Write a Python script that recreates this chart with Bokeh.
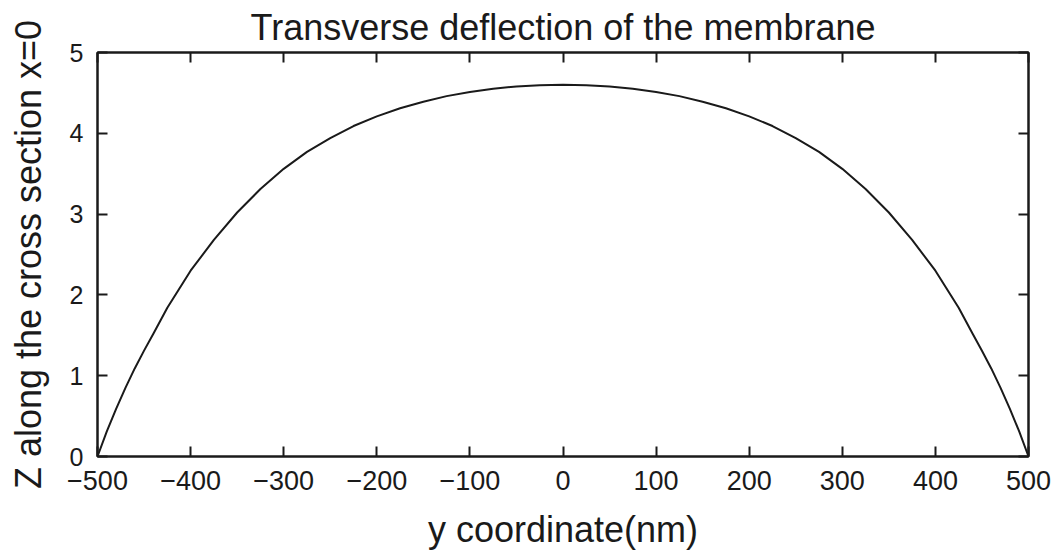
from bokeh.plotting import figure
from bokeh.models import LinearAxis, FixedTicker, Range1d
from bokeh.embed import file_html
from bokeh.resources import INLINE

# ---- data ----
y_coord = [-500, -490, -480, -470, -460, -450, -440, -425, -400, -375, -350,
           -325, -300, -275, -250, -225, -200, -175, -150, -125, -100,
           -75, -50, -25, 0, 25, 50, 75, 100, 125, 150,
           175, 200, 225, 250, 275, 300, 325, 350, 375, 400,
           425, 440, 450, 460, 470, 480, 490, 500]
deflection = [0.00, 0.31, 0.59, 0.85, 1.09, 1.31, 1.52, 1.84, 2.30, 2.68, 3.02,
              3.31, 3.56, 3.77, 3.94, 4.09, 4.21, 4.31, 4.39, 4.46, 4.51,
              4.55, 4.58, 4.595, 4.60, 4.595, 4.58, 4.55, 4.51, 4.46, 4.39,
              4.31, 4.21, 4.09, 3.94, 3.77, 3.56, 3.31, 3.02, 2.68, 2.30,
              1.84, 1.52, 1.31, 1.09, 0.85, 0.59, 0.31, 0.00]

x_ticks = [-500, -400, -300, -200, -100, 0, 100, 200, 300, 400, 500]
x_tick_labels = ["\u2212500", "\u2212400", "\u2212300", "\u2212200", "\u2212100",
                 "0", "100", "200", "300", "400", "500"]
z_ticks = [0, 1, 2, 3, 4, 5]
z_tick_labels = ["0", "1", "2", "3", "4", "5"]

title_text = "Transverse deflection of the membrane"
x_label = "y coordinate(nm)"
y_label = "Z along the cross section x=0"

FONT = "Liberation Sans"
INK = "#1a1a1a"

p = figure(width=1060, height=556,
           x_range=Range1d(-500, 500), y_range=Range1d(0, 5),
           output_backend="svg", toolbar_location=None,
           min_border_left=97, min_border_right=32,
           min_border_top=52, min_border_bottom=100,
           title=title_text)

p.title.text_font = FONT
p.title.text_font_size = "36px"
p.title.text_font_style = "normal"
p.title.text_color = INK
p.title.align = "center"
p.title.standoff = 9

p.xgrid.visible = False
p.ygrid.visible = False
p.outline_line_color = INK
p.outline_line_width = 2
p.background_fill_color = "white"
p.border_fill_color = "white"

p.line(y_coord, deflection, line_color=INK, line_width=2, line_join="round")

bottom_ax = p.below[0]
left_ax = p.left[0]
right_ax = LinearAxis()
top_ax = LinearAxis()
p.add_layout(right_ax, "right")
p.add_layout(top_ax, "above")

for ax in (bottom_ax, top_ax):
    ax.ticker = FixedTicker(ticks=x_ticks)
    ax.major_label_overrides = dict(zip(x_ticks, x_tick_labels))
for ax in (left_ax, right_ax):
    ax.ticker = FixedTicker(ticks=z_ticks)
    ax.major_label_overrides = dict(zip(z_ticks, z_tick_labels))

for ax in (bottom_ax, top_ax, left_ax, right_ax):
    ax.axis_line_color = INK
    ax.axis_line_width = 2
    ax.major_tick_in = 10
    ax.major_tick_out = 0
    ax.major_tick_line_width = 2
    ax.major_tick_line_color = INK
    ax.minor_tick_line_color = None
    ax.major_label_text_font = FONT
    ax.major_label_text_color = INK
    ax.axis_label_text_font = FONT
    ax.axis_label_text_font_style = "normal"
    ax.axis_label_text_color = INK
    ax.axis_label_text_font_size = "36px"

bottom_ax.major_label_text_font_size = "27px"
bottom_ax.major_label_standoff = 14
bottom_ax.axis_label = x_label
bottom_ax.axis_label_standoff = 16

left_ax.major_label_text_font_size = "25px"
left_ax.major_label_standoff = 14
left_ax.axis_label = y_label
left_ax.axis_label_standoff = 18

# mirror axes: ticks only
for ax in (right_ax, top_ax):
    ax.major_label_text_font_size = "0px"
    ax.major_label_text_color = None
    ax.major_label_standoff = 0

open("out.html", "w").write(file_html(p, INLINE))
